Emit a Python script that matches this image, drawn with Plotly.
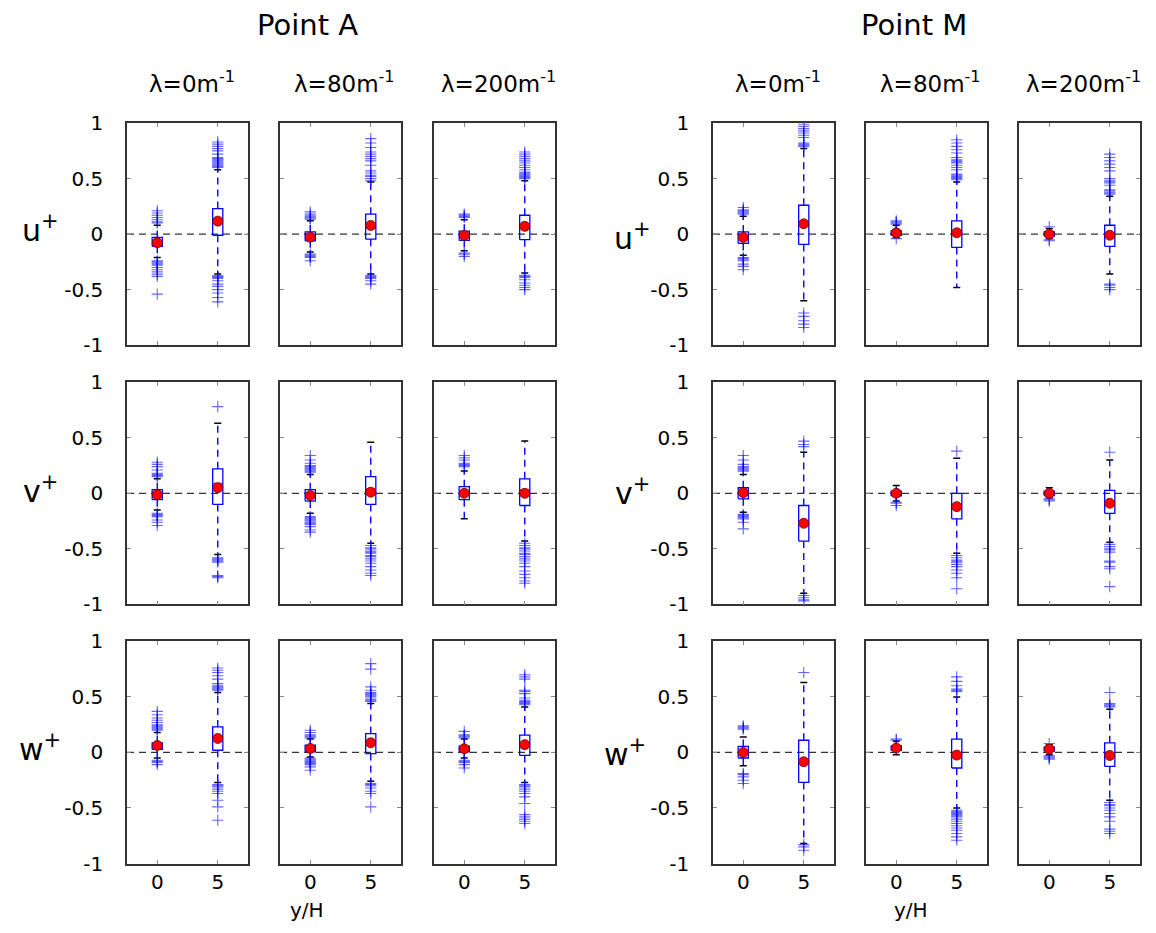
import plotly.graph_objects as go

W, H = 1156, 933
FONT = "DejaVu Sans"

# ---------------- data ----------------
POSITIONS = [0, 5]
XTICK_LABELS = ["0", "5"]
YTICKS = [-1, -0.5, 0, 0.5, 1]
YTICK_LABELS = ["-1", "-0.5", "0", "0.5", "1"]
GROUP_TITLES = ["Point A", "Point M"]
LAMBDA_LABELS = ["λ=0m<sup>-1</sup>", "λ=80m<sup>-1</sup>", "λ=200m<sup>-1</sup>"]
ROW_LABELS = ["u<sup>+</sup>", "v<sup>+</sup>", "w<sup>+</sup>"]
XLABEL = "y/H"

# each row: [λ0 y/H=0, λ0 y/H=5, λ80 y/H=0, λ80 y/H=5, λ200 y/H=0, λ200 y/H=5]
A_q1 = [[-0.11, -0.01, -0.06, -0.045, -0.057, -0.05],
        [-0.057, -0.10, -0.07, -0.10, -0.057, -0.11],
        [0.027, 0.02, 0.006, -0.01, 0.006, -0.027]]
A_med = [[-0.07, 0.11, -0.03, 0.07, -0.01, 0.06],
         [-0.015, 0.09, -0.02, 0.04, 0.0, 0.03],
         [0.06, 0.13, 0.03, 0.08, 0.03, 0.06]]
A_q3 = [[-0.03, 0.23, 0.02, 0.18, 0.027, 0.17],
        [0.033, 0.22, 0.033, 0.15, 0.06, 0.13],
        [0.087, 0.23, 0.066, 0.17, 0.057, 0.156]]
A_wlo = [[-0.21, -0.36, -0.16, -0.36, -0.15, -0.35],
         [-0.15, -0.55, -0.18, -0.45, -0.23, -0.43],
         [-0.05, -0.27, -0.04, -0.26, -0.05, -0.27]]
A_whi = [[0.08, 0.58, 0.12, 0.47, 0.13, 0.48],
         [0.13, 0.63, 0.17, 0.46, 0.20, 0.47],
         [0.18, 0.54, 0.12, 0.44, 0.12, 0.41]]
A_mean = [[-0.078, 0.117, -0.027, 0.078, -0.012, 0.07],
          [-0.012, 0.05, -0.02, 0.01, 0.0, 0.0],
          [0.063, 0.126, 0.036, 0.087, 0.033, 0.07]]

M_q1 = [[-0.084, -0.093, -0.01, -0.12, -0.018, -0.11],
        [-0.05, -0.43, -0.024, -0.23, -0.02, -0.18],
        [-0.05, -0.27, 0.018, -0.14, 0.012, -0.126]]
M_med = [[-0.03, 0.09, 0.01, 0.01, 0.0, -0.01],
         [0.0, -0.27, 0.0, -0.12, 0.0, -0.09],
         [0.0, -0.08, 0.04, -0.02, 0.03, -0.01]]
M_q3 = [[0.02, 0.26, 0.03, 0.12, 0.02, 0.08],
        [0.05, -0.11, 0.02, 0.0, 0.02, 0.027],
        [0.054, 0.11, 0.06, 0.12, 0.048, 0.087]]
M_wlo = [[-0.19, -0.60, -0.03, -0.48, -0.04, -0.36],
         [-0.17, -0.90, -0.07, -0.54, -0.04, -0.44],
         [-0.12, -0.82, -0.02, -0.50, -0.02, -0.43]]
M_whi = [[0.16, 0.77, 0.08, 0.47, 0.05, 0.34],
         [0.17, 0.37, 0.07, 0.315, 0.05, 0.30],
         [0.14, 0.63, 0.10, 0.50, 0.07, 0.39]]
M_mean = [[-0.03, 0.093, 0.012, 0.012, 0.0, -0.01],
          [0.006, -0.27, 0.0, -0.12, 0.0, -0.09],
          [0.0, -0.084, 0.04, -0.024, 0.03, -0.027]]

# outliers, same ordering as above
A_u_out = [[0.10, 0.11, 0.13, 0.15, 0.17, 0.19, 0.21, -0.24, -0.25, -0.26, -0.27, -0.28, -0.30, -0.32, -0.34, -0.36, -0.38, -0.54],
           [0.60, 0.61, 0.62, 0.63, 0.64, 0.65, 0.66, 0.67, 0.68, 0.69, 0.72, 0.75, 0.77, 0.79, 0.81, 0.83,
            -0.375, -0.38, -0.39, -0.40, -0.42, -0.45, -0.47, -0.50, -0.53, -0.57, -0.61],
           [0.135, 0.145, 0.155, 0.165, 0.18, 0.20, -0.18, -0.19, -0.20, -0.21, -0.24],
           [0.48, 0.50, 0.52, 0.53, 0.55, 0.57, 0.62, 0.66, 0.68, 0.70, 0.72, 0.74, 0.78, 0.82, 0.86,
            -0.37, -0.38, -0.39, -0.40, -0.42, -0.45],
           [0.15, 0.16, 0.17, 0.18, -0.17, -0.18, -0.20],
           [0.50, 0.51, 0.52, 0.53, 0.54, 0.55, 0.56, 0.58, 0.60, 0.62, 0.64, 0.66, 0.68, 0.70, 0.72, 0.74,
            -0.37, -0.38, -0.39, -0.41, -0.44, -0.46, -0.48, -0.50]]
A_v_out = [[0.15, 0.16, 0.17, 0.18, 0.21, 0.24, 0.26, 0.28, -0.18, -0.19, -0.20, -0.21, -0.24, -0.26, -0.29],
           [0.78, -0.58, -0.59, -0.60, -0.61, -0.62, -0.74, -0.75, -0.76],
           [0.19, 0.20, 0.21, 0.22, 0.23, 0.24, 0.25, 0.27, 0.30, 0.34,
            -0.21, -0.22, -0.23, -0.24, -0.25, -0.26, -0.27, -0.28, -0.30, -0.33, -0.35],
           [-0.47, -0.49, -0.50, -0.52, -0.53, -0.54, -0.56, -0.57, -0.59, -0.61, -0.63, -0.66, -0.69, -0.72, -0.74],
           [0.24, 0.25, 0.26, 0.27, 0.30, 0.32, 0.34],
           [-0.45, -0.47, -0.49, -0.50, -0.52, -0.54, -0.55, -0.57, -0.59, -0.61, -0.63, -0.66, -0.70, -0.73,
            -0.76, -0.79, -0.81]]
A_w_out = [[0.20, 0.21, 0.22, 0.23, 0.24, 0.25, 0.27, 0.29, 0.31, 0.34, 0.37, -0.07, -0.08, -0.09, -0.11],
           [0.56, 0.57, 0.58, 0.59, 0.60, 0.62, 0.66, 0.69, 0.72, 0.74, 0.76,
            -0.29, -0.30, -0.31, -0.33, -0.35, -0.37, -0.43, -0.49, -0.61],
           [0.13, 0.14, 0.15, 0.16, 0.18, 0.20, -0.05, -0.06, -0.07, -0.08, -0.09, -0.10, -0.11, -0.13, -0.16],
           [0.46, 0.47, 0.48, 0.50, 0.51, 0.52, 0.53, 0.54, 0.56, 0.59, 0.75, 0.80,
            -0.28, -0.29, -0.30, -0.32, -0.35, -0.37, -0.49],
           [0.13, 0.14, 0.15, 0.16, 0.19, -0.07, -0.08, -0.09, -0.11, -0.14],
           [0.43, 0.44, 0.45, 0.46, 0.47, 0.49, 0.53, 0.55, 0.56, 0.66, 0.68, 0.70,
            -0.29, -0.30, -0.31, -0.33, -0.35, -0.37, -0.40, -0.46, -0.56, -0.58, -0.60, -0.62, -0.64]]

M_u_out = [[0.18, 0.19, 0.20, 0.21, 0.22, 0.24, -0.21, -0.22, -0.23, -0.24, -0.27, -0.29, -0.32],
           [0.79, 0.80, 0.81, 0.82, 0.87, 0.89, 0.91, 0.93, 0.95, 0.97, 0.99, -0.71, -0.74, -0.78, -0.81, -0.84],
           [0.09, 0.10, 0.11, 0.12, -0.04],
           [0.49, 0.50, 0.51, 0.52, 0.53, 0.54, 0.58, 0.60, 0.62, 0.64, 0.65, 0.66, 0.67, 0.69, 0.73, 0.76,
            0.79, 0.82, 0.85],
           [0.066, -0.05, -0.06],
           [0.36, 0.37, 0.38, 0.39, 0.40, 0.44, 0.46, 0.47, 0.48, 0.50, 0.57, 0.60, 0.63, 0.66, 0.69, 0.72,
            -0.45, -0.46, -0.48, -0.50]]
M_v_out = [[0.20, 0.21, 0.22, 0.23, 0.24, 0.26, 0.30, 0.34, -0.19, -0.20, -0.21, -0.22, -0.23, -0.26, -0.32],
           [0.42, 0.44, 0.47, -0.92, -0.94, -0.96, -0.97],
           [-0.08, -0.09, -0.11],
           [0.38, -0.56, -0.58, -0.60, -0.61, -0.62, -0.64, -0.66, -0.69, -0.72, -0.76, -0.86],
           [-0.05, -0.06, -0.07],
           [0.37, -0.46, -0.48, -0.50, -0.51, -0.53, -0.61, -0.62, -0.66, -0.68, -0.84]]
M_w_out = [[0.21, 0.22, 0.23, 0.24, -0.19, -0.20, -0.22, -0.25, -0.28],
           [0.72, -0.83, -0.85, -0.88],
           [0.11, 0.12],
           [0.55, 0.56, 0.57, 0.60, 0.64, 0.68, -0.52, -0.53, -0.54, -0.55, -0.56, -0.57, -0.58, -0.60, -0.62,
            -0.64, -0.66, -0.68, -0.70, -0.73, -0.76, -0.79],
           [0.08, -0.03, -0.04, -0.05, -0.06],
           [0.41, 0.42, 0.43, 0.44, 0.54, -0.45, -0.47, -0.48, -0.50, -0.52, -0.55, -0.58, -0.62, -0.69, -0.71,
            -0.73]]

# ---------------- layout geometry (pixels) ----------------
COL_LEFT = [[127, 280, 434], [713, 866, 1019]]
PANEL_W = 121
ROW_TOP = [114, 380, 646]
PANEL_H = 228
HALF_W = 0.42  # half box width in data units

BLUE = "#0000ff"
OUT_COLOR = "rgba(0,0,255,0.6)"


def px(x):
    return x / W


def py(y):
    return 1 - y / H


stats = {
    0: (A_q1, A_med, A_q3, A_wlo, A_whi, A_mean, [A_u_out, A_v_out, A_w_out]),
    1: (M_q1, M_med, M_q3, M_wlo, M_whi, M_mean, [M_u_out, M_v_out, M_w_out]),
}

fig = go.Figure()
layout = dict(
    width=W, height=H,
    margin=dict(l=0, r=0, t=0, b=0),
    paper_bgcolor="white", plot_bgcolor="white",
    showlegend=False,
    font=dict(family=FONT, color="black", size=20),
)
shapes = []
annotations = []

k = 0
for g in range(2):
    q1s, meds, q3s, wlos, whis, means, outs = stats[g]
    for r in range(3):
        for c in range(3):
            k += 1
            xa = "x" if k == 1 else f"x{k}"
            ya = "y" if k == 1 else f"y{k}"
            xkey = "xaxis" if k == 1 else f"xaxis{k}"
            ykey = "yaxis" if k == 1 else f"yaxis{k}"
            x0 = COL_LEFT[g][c]
            y0 = ROW_TOP[r]
            layout[xkey] = dict(
                domain=[px(x0), px(x0 + PANEL_W)], anchor=ya,
                range=[-2.5, 7.5], tickvals=POSITIONS, ticktext=XTICK_LABELS,
                showticklabels=(r == 2), ticks="inside", ticklen=4, tickcolor="#888888",
                showline=True, linecolor="#333333", linewidth=1.5, mirror="allticks",
                showgrid=False, zeroline=False, fixedrange=True,
                tickfont=dict(size=20, family=FONT), ticklabelstandoff=0,
            )
            layout[ykey] = dict(
                domain=[py(y0 + PANEL_H), py(y0)], anchor=xa,
                range=[-1, 1], tickvals=YTICKS, ticktext=YTICK_LABELS,
                showticklabels=(c == 0), ticks="inside", ticklen=4, tickcolor="#888888",
                showline=True, linecolor="#333333", linewidth=1.5, mirror="allticks",
                showgrid=False, zeroline=False, fixedrange=True,
                tickfont=dict(size=20, family=FONT), ticklabelstandoff=18,
            )
            # zero reference line
            shapes.append(dict(type="line", xref=f"{xa} domain", yref=ya, x0=0, x1=1, y0=0, y1=0,
                               line=dict(color="#333333", width=1.3, dash="7px,5px"), layer="below"))
            for p, pos in enumerate(POSITIONS):
                i = 2 * c + p
                q1, med, q3 = q1s[r][i], meds[r][i], q3s[r][i]
                wlo, whi, mn = wlos[r][i], whis[r][i], means[r][i]
                out = outs[r][i]
                # whiskers
                fig.add_trace(go.Scatter(
                    x=[pos, pos, None, pos, pos], y=[q3, whi, None, q1, wlo],
                    mode="lines", line=dict(color=BLUE, width=1.4, dash="7px,5px"),
                    xaxis=xa, yaxis=ya, hoverinfo="skip"))
                # whisker caps
                fig.add_trace(go.Scatter(
                    x=[pos, pos], y=[whi, wlo], mode="markers",
                    marker=dict(symbol="line-ew", size=5, line=dict(color="black", width=1.5)),
                    xaxis=xa, yaxis=ya, hoverinfo="skip"))
                # box
                fig.add_trace(go.Scatter(
                    x=[pos - HALF_W, pos + HALF_W, pos + HALF_W, pos - HALF_W, pos - HALF_W],
                    y=[q1, q1, q3, q3, q1], mode="lines",
                    line=dict(color=BLUE, width=1.3),
                    xaxis=xa, yaxis=ya, hoverinfo="skip"))
                # median
                fig.add_trace(go.Scatter(
                    x=[pos - HALF_W, pos + HALF_W], y=[med, med], mode="lines",
                    line=dict(color="red", width=1.3),
                    xaxis=xa, yaxis=ya, hoverinfo="skip"))
                # outliers
                fig.add_trace(go.Scatter(
                    x=[pos] * len(out), y=out, mode="markers",
                    marker=dict(symbol="cross-thin", size=8, line=dict(color=OUT_COLOR, width=1.1)),
                    xaxis=xa, yaxis=ya, hoverinfo="skip"))
                # mean
                fig.add_trace(go.Scatter(
                    x=[pos], y=[mn], mode="markers",
                    marker=dict(symbol="circle", size=10, color="red", line=dict(color="#660000", width=0.8)),
                    xaxis=xa, yaxis=ya, hoverinfo="skip"))
            if r == 0:
                annotations.append(dict(
                    text=LAMBDA_LABELS[c], x=px(x0 + PANEL_W / 2 + 4), y=py(72), xref="paper", yref="paper",
                    showarrow=False, xanchor="center", yanchor="middle", font=dict(size=23, family=FONT)))

# group titles, row labels, x labels
TITLE_X = [307, 914]
XLABEL_X = [307, 911]
ROWLAB_X = [[40, 40, 40], [632, 632, 625]]
ROWLAB_Y = [[222, 490, 755], [230, 492, 760]]
for g in range(2):
    annotations.append(dict(text=GROUP_TITLES[g], x=px(TITLE_X[g]), y=py(13), xref="paper", yref="paper",
                            showarrow=False, xanchor="center", yanchor="middle", font=dict(size=29, family=FONT)))
    annotations.append(dict(text=XLABEL, x=px(XLABEL_X[g]), y=py(922), xref="paper", yref="paper",
                            showarrow=False, xanchor="center", yanchor="middle", font=dict(size=20, family=FONT)))
    for r in range(3):
        annotations.append(dict(text=ROW_LABELS[r], x=px(ROWLAB_X[g][r]), y=py(ROWLAB_Y[g][r]),
                                xref="paper", yref="paper", showarrow=False, xanchor="center",
                                yanchor="middle", font=dict(size=30, family=FONT)))

layout["shapes"] = shapes
layout["annotations"] = annotations
fig.update_layout(**layout)
fig.write_html("out.html", config={"displayModeBar": False},
               post_script="document.body.style.margin='0px';document.body.style.overflow='hidden';")
